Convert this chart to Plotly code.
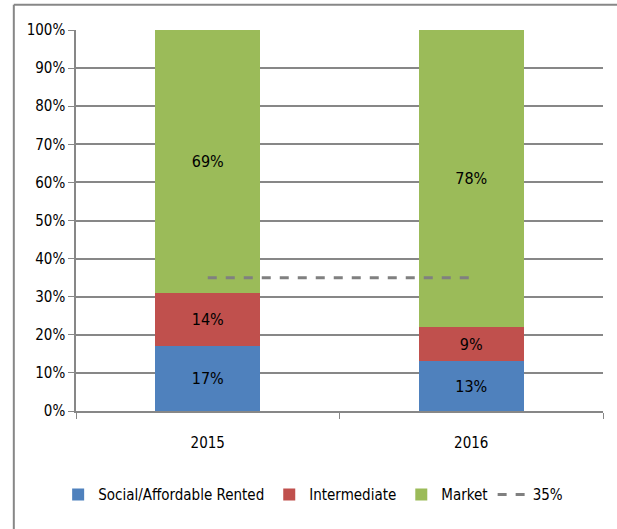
import plotly.graph_objects as go

years = ["2015", "2016"]
social = [17, 13]
intermediate = [14, 9]
market = [69, 78]
target = [35, 35]

FONT = "Liberation Sans Narrow, Arial Narrow, DejaVu Sans Condensed, sans-serif"

fig = go.Figure()
for name, vals, col in [("Social/Affordable Rented", social, "#4F81BD"),
                        ("Intermediate", intermediate, "#C0504D"),
                        ("Market", market, "#9BBB59")]:
    fig.add_trace(go.Bar(x=years, y=vals, name=name, marker=dict(color=col, line=dict(width=0)),
                         text=[f"{v}%" for v in vals], textposition="inside",
                         insidetextanchor="middle",
                         textfont=dict(color="black", size=16, family=FONT)))
fig.add_trace(go.Scatter(x=years, y=target, name="35%", mode="lines",
                         line=dict(color="#808080", width=3, dash="dash")))

fig.update_layout(
    barmode="stack", bargap=0.6,
    width=617, height=529,
    margin=dict(l=76, r=14, t=30, b=118, autoexpand=False),
    paper_bgcolor="white", plot_bgcolor="white",
    font=dict(family=FONT, size=15, color="black"),
    showlegend=True,
    legend=dict(orientation="h", x=0.45, xanchor="center", y=-0.22, yanchor="middle",
                font=dict(size=15, family=FONT), traceorder="normal", itemwidth=30,
                tracegroupgap=0),
    uniformtext=dict(minsize=10, mode="show"),
)
fig.update_yaxes(range=[0, 100], dtick=10, ticksuffix="%", showgrid=True,
                 gridcolor="#878787", gridwidth=1.5, showline=True, linecolor="#878787",
                 linewidth=1.5, ticks="outside", ticklen=6, tickcolor="#878787",
                 zeroline=False, tickfont=dict(size=15), automargin=False)
fig.update_xaxes(type="category", showline=True, linecolor="#878787", linewidth=1.5,
                 ticks="outside", ticklen=6, tickcolor="#878787", tickson="boundaries",
                 tickfont=dict(size=15), ticklabelstandoff=17, automargin=False)
# chart frame (top and left edges; the rest lies outside the picture)
fig.add_shape(type="line", xref="paper", yref="paper", x0=-0.118, x1=1.2, y0=1.066, y1=1.066,
              line=dict(color="#878787", width=2), layer="below")
fig.add_shape(type="line", xref="paper", yref="paper", x0=-0.118, x1=-0.118, y0=-0.5, y1=1.066,
              line=dict(color="#878787", width=2), layer="below")
fig.write_html("out.html", config={"displayModeBar": False},
               post_script="document.body.style.margin='0';document.body.style.overflow='hidden';")
